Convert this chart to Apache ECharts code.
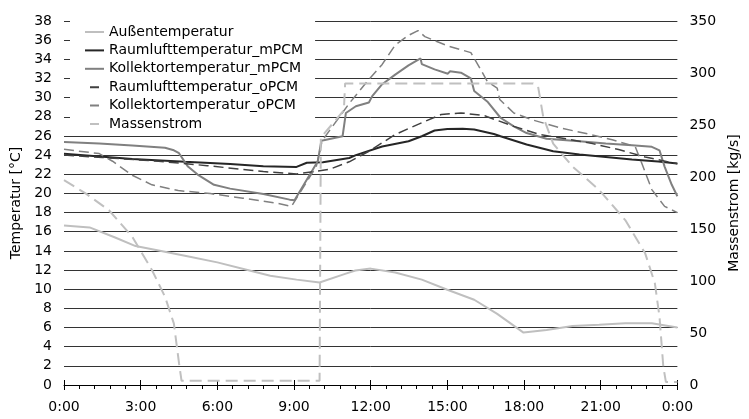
<!DOCTYPE html>
<html><head><meta charset="utf-8">
<script src="https://cdn.jsdelivr.net/npm/echarts@6/dist/echarts.min.js"></script>
<style>html,body{margin:0;padding:0;background:#fff}#c{width:749px;height:419px}</style>
</head><body><div id="c"></div>
<script>
// ---- data (hours of day, values) ----
const seriesNames = ['Außentemperatur','Raumlufttemperatur_mPCM','Kollektortemperatur_mPCM','Raumlufttemperatur_oPCM','Kollektortemperatur_oPCM','Massenstrom'];
const xTickLabels = ['0:00','3:00','6:00','9:00','12:00','15:00','18:00','21:00','0:00'];
const leftTicks = [0,38,2];      // min, max, step  (°C)
const rightTicks = [0,350,50];   // min, max, step  (kg/s)

const aussenT = [[0,16.66],[1.0,16.45],[2.0,15.4],[2.8,14.5],[3.7,14.05],[4.73,13.5],[6.0,12.8],[7.18,12.0],[8.07,11.4],[9.1,11.0],[10.0,10.7],[11.0,11.6],[11.4,11.95],[12.0,12.15],[12.96,11.75],[14.0,11.0],[15.0,9.94],[16.05,8.9],[16.95,7.43],[17.98,5.47],[18.88,5.75],[19.9,6.17],[20.94,6.28],[21.96,6.45],[23.0,6.45],[24,6.0]];

const raumMPCM = [[0,24.13],[2.67,23.6],[4.73,23.3],[6.5,23.08],[7.8,22.84],[9.1,22.77],[9.5,23.2],[10.13,23.26],[11.16,23.7],[11.42,24.0],[12.45,24.9],[13.48,25.45],[14.0,25.97],[14.5,26.57],[15.0,26.72],[15.6,26.75],[16.05,26.67],[16.82,26.2],[17.08,25.97],[18.1,25.1],[19.14,24.4],[20.17,24.06],[21.2,23.8],[22.22,23.54],[23.25,23.33],[24,23.12]];

const kollMPCM = [[0,25.38],[1.38,25.2],[2.67,25.0],[3.95,24.76],[4.3,24.5],[4.5,24.2],[4.85,22.8],[5.23,21.97],[5.87,20.9],[6.5,20.5],[7.8,19.95],[8.83,19.35],[9.02,19.28],[9.93,23.36],[10.07,25.5],[10.9,25.97],[11.03,28.4],[11.42,29.1],[11.93,29.5],[12.06,30.16],[12.45,31.4],[12.96,32.4],[13.48,33.37],[13.95,34.1],[14.0,33.5],[14.5,32.95],[15.02,32.5],[15.1,32.75],[15.53,32.6],[15.92,32.0],[16.05,30.7],[16.56,29.6],[17.08,27.9],[17.6,27.0],[18.1,26.3],[18.88,25.7],[20.17,25.45],[21.2,25.2],[22.22,25.03],[23.0,24.86],[23.3,24.5],[23.5,22.8],[23.78,20.9],[24,19.7]];

const raumOPCM = [[0,24.0],[1.5,23.75],[3.7,23.36],[5.6,22.9],[7.8,22.28],[9.1,22.04],[9.87,22.3],[10.4,22.53],[11.16,23.3],[11.93,24.4],[12.96,26.15],[13.99,27.37],[14.76,28.24],[15.53,28.4],[16.44,28.14],[16.56,28.0],[17.6,27.0],[18.62,26.15],[19.65,25.7],[20.68,25.2],[21.7,24.58],[22.74,23.8],[24,23.1]];

const kollOPCM = [[0,24.6],[1.38,24.16],[1.9,23.36],[2.67,21.9],[3.44,20.9],[4.47,20.3],[5.73,19.98],[7.0,19.5],[8.3,19.0],[8.9,18.65],[9.87,22.8],[10.1,25.5],[11.16,29.4],[11.93,31.9],[12.45,33.47],[12.96,35.5],[13.48,36.5],[13.85,37.0],[14.12,36.37],[15.02,35.4],[15.92,34.7],[16.3,32.95],[16.56,31.7],[16.95,31.0],[17.05,29.8],[17.6,28.4],[18.36,27.65],[19.4,26.85],[20.43,26.25],[21.45,25.6],[22.35,24.9],[22.6,23.2],[23.0,20.4],[23.5,18.65],[24,18.0]];

const massenstrom = [[0,197],[0.86,184],[1.76,168],[2.67,142.6],[3.44,110.6],[3.95,85],[4.3,59],[4.5,21],[4.6,4],[10.0,4],[10.05,238],[10.95,264],[11.0,290],[18.36,290],[18.55,287],[18.75,258],[19.14,232],[19.9,210],[20.94,187.5],[21.96,158.6],[22.74,126.6],[23.12,97.8],[23.3,65.7],[23.45,17.6],[23.55,3],[24,3]];

// ---- chart ----
const FONT = 'DejaVu Sans';
const txt = {fontFamily: FONT, fontSize: 14, color: '#000'};
const chart = echarts.init(document.getElementById('c'), null, {renderer: 'canvas'});

function lineSeries(name, data, color, width, dash, yIdx) {
  return {
    name, type: 'line', data, yAxisIndex: yIdx || 0, xAxisIndex: 0,
    symbol: 'none', showSymbol: false, animation: false, silent: true,
    lineStyle: {color, width, type: dash || 'solid'},
    itemStyle: {color}
  };
}

const legendDash = [0, 5, 9, 5];
chart.setOption({
  animation: false,
  backgroundColor: '#fff',
  grid: {left: 64, right: 63, top: 21, bottom: 34, containLabel: false},
  legend: {
    orient: 'vertical', left: 70, top: 15,
    padding: [10, 12, 2, 14], backgroundColor: '#fff',
    itemWidth: 19, itemHeight: 14, itemGap: 4.4,
    itemStyle: {opacity: 0},
    lineStyle: {width: 2},
    textStyle: Object.assign({}, txt),
    selectedMode: false,
    data: [
      {name: seriesNames[0]},
      {name: seriesNames[1]},
      {name: seriesNames[2]},
      {name: seriesNames[3], lineStyle: {type: legendDash, width: 2}},
      {name: seriesNames[4], lineStyle: {type: legendDash, width: 2}},
      {name: seriesNames[5], lineStyle: {type: legendDash, width: 2}}
    ]
  },
  xAxis: [{
    type: 'value', min: 0, max: 24, interval: 3,
    axisLine: {show: true, lineStyle: {color: '#000', width: 1}},
    axisTick: {show: true, length: 5, lineStyle: {color: '#000'}},
    minorTick: {show: true, splitNumber: 5, length: 4, lineStyle: {color: '#000'}},
    splitLine: {show: false},
    axisLabel: Object.assign({margin: 15, formatter: v => xTickLabels[Math.round(v / 3)]}, txt)
  }, {
    type: 'value', min: 0, max: 24, interval: 3, position: 'top', offset: -364,
    axisLine: {show: false},
    axisTick: {show: true, length: 5, inside: false, lineStyle: {color: '#000'}},
    axisLabel: {show: false}, splitLine: {show: false}
  }],
  yAxis: [{
    type: 'value', min: leftTicks[0], max: leftTicks[1], interval: leftTicks[2],
    axisLine: {show: false}, axisTick: {show: false},
    axisLabel: Object.assign({margin: 12}, txt),
    splitLine: {show: true, lineStyle: {color: '#333', width: 1}},
    name: 'Temperatur [°C]', nameLocation: 'middle', nameRotate: 90, nameGap: 37,
    nameTextStyle: Object.assign({}, txt)
  }, {
    type: 'value', position: 'right', min: rightTicks[0], max: rightTicks[1], interval: rightTicks[2],
    axisLine: {show: false}, axisTick: {show: false},
    axisLabel: Object.assign({margin: 12}, txt),
    splitLine: {show: false},
    name: 'Massenstrom [kg/s]', nameLocation: 'middle', nameRotate: 90, nameGap: 45,
    nameTextStyle: Object.assign({}, txt)
  }],
  series: [
    lineSeries(seriesNames[0], aussenT, '#bfbfbf', 2),
    lineSeries(seriesNames[1], raumMPCM, '#262626', 2),
    lineSeries(seriesNames[2], kollMPCM, '#808080', 2),
    lineSeries(seriesNames[3], raumOPCM, '#404040', 1.5, [10, 5]),
    lineSeries(seriesNames[4], kollOPCM, '#808080', 1.5, [10, 5]),
    lineSeries(seriesNames[5], massenstrom, '#c0c0c0', 2, [12, 6], 1)
  ]
});
</script>
</body></html>
